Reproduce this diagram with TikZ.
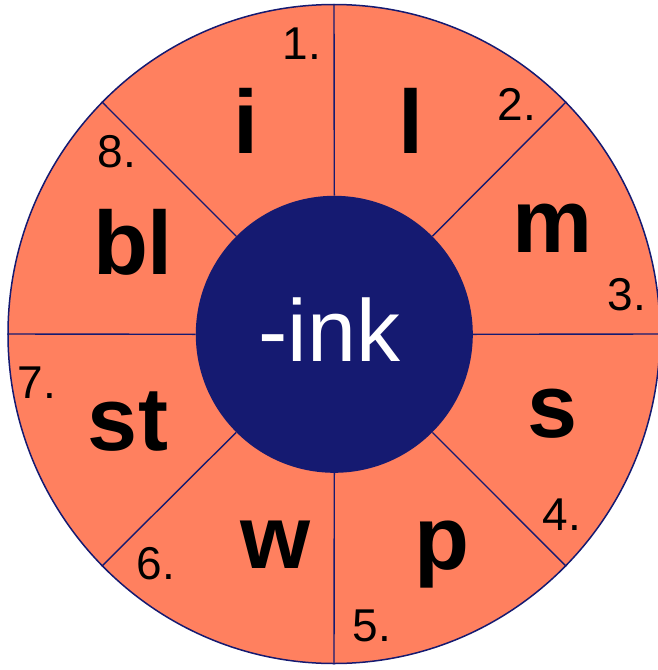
\documentclass[tikz,border=0pt]{standalone}
\usepackage{fontspec}
\setmainfont{Liberation Sans}
\usetikzlibrary{shapes.geometric}
\definecolor{salmon}{HTML}{FF805F}
\definecolor{navy}{HTML}{151A71}
\begin{document}
\begin{tikzpicture}[x=1pt,y=-1pt,
  spoke/.style={draw=navy,line width=1.4pt},
  num/.style={anchor=base,inner sep=0pt,font=\fontsize{46}{46}\selectfont},
  onset/.style={anchor=base,inner sep=0pt,font=\fontsize{90}{90}\selectfont\bfseries}]
\useasboundingbox (0,0) rectangle (658,670);
\node[ellipse,minimum width=652pt,minimum height=659pt,inner sep=0pt,fill=salmon,draw=navy,line width=1.5pt] (wheel) at (334,334) {};
\node[circle,minimum size=277pt,inner sep=0pt,fill=navy] (hub) at (334.3,334.3) {};
\foreach \a in {0,45,...,315}{
  \draw[spoke] (hub.\a) -- (wheel.\a);
}
\node[anchor=base,inner sep=0pt,text=white,font=\fontsize{88}{88}\selectfont] (rime) at (329.5,361) {-ink};
% numbers
\node[num] (n1) at (302,59) {1.};
\node[num] (n2) at (517,120) {2.};
\node[num] (n3) at (627,310) {3.};
\node[num] (n4) at (562,530) {4.};
\node[num] (n5) at (372,641) {5.};
\node[num] (n6) at (156,579) {6.};
\node[num] (n7) at (37,398) {7.};
\node[num] (n8) at (117,167) {8.};
% onsets
\node[onset] (o1) at (246,153) {i};
\node[onset] (o2) at (411,153) {l};
\node[onset] (o3) at (553,252) {m};
\node[onset] (o4) at (553,437) {s};
\node[onset] (o5) at (442,569) {p};
\node[onset] (o6) at (276,568) {w};
\node[onset] (o7) at (128,450) {st};
\node[onset] (o8) at (133,274) {bl};
\end{tikzpicture}
\end{document}
